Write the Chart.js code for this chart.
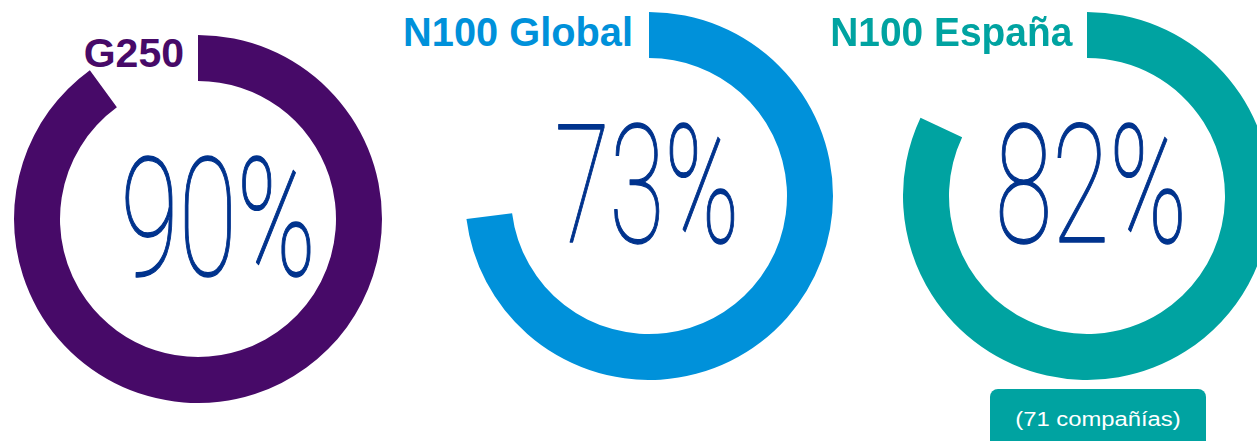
<!doctype html>
<html lang="es">
<head>
<meta charset="utf-8">
<title>G250 / N100 Global / N100 España</title>
<script src="https://cdn.jsdelivr.net/npm/chart.js"></script>
<style>
  html, body { margin: 0; padding: 0; background: #fff; }
  body { position: relative; width: 1257px; height: 441px; overflow: hidden; }
  .ring { position: absolute; width: 368px; height: 368px; }
  .title {
    position: absolute;
    font: bold 41px "Liberation Sans", Arial, sans-serif;
    line-height: 41px;
    white-space: nowrap;
    transform-origin: right top;
  }
  .note-box {
    position: absolute;
    left: 990px; top: 389px; width: 216px; height: 70px;
    background: #00a3a1;
    border-radius: 8px;
  }
  .note {
    position: absolute;
    left: 990px; width: 216px; top: 408.6px;
    text-align: center;
    color: #fff;
    font: 20px "Liberation Sans", Arial, sans-serif;
    line-height: 20px;
    white-space: nowrap;
    transform: scaleX(1.19);
  }
</style>
</head>
<body>
<script>
  // data
  const names = ['G250', 'N100 Global', 'N100 España']
  const percents = [90, 73, 82]
  const note = '(71 compañías)'

  // look
  const colors = ['#470a68', '#0091da', '#00a3a1']
  const numberColor = '#00338d'
  // ring centre, title right edge / baseline, number offset from centre
  const layout = [
    { cx: 197.5, cy: 218.5, titleRight: 184, titleBase: 68, titleScale: 1.0, dx: 20, dy: 55.5, w: 185, h: 120 },
    { cx: 649, cy: 196, titleRight: 632.5, titleBase: 46.7, titleScale: 0.97, dx: -2.8, dy: 46.3, w: 176, h: 120 },
    { cx: 1087, cy: 196, titleRight: 1072, titleBase: 46.7, titleScale: 0.948, dx: 3.8, dy: 46.3, w: 182, h: 120 }
  ]
  const R = 184

  const bigNumber = {
    id: 'bigNumber',
    afterDraw(chart, args, opts) {
      const ctx = chart.ctx
      const arc = chart.getDatasetMeta(0).data[0]
      ctx.save()
      ctx.font = '100 170px Roboto, "Roboto Thin", sans-serif'
      ctx.fillStyle = opts.color
      ctx.strokeStyle = opts.color
      ctx.lineWidth = 1.3
      ctx.lineJoin = 'round'
      ctx.textAlign = 'left'
      ctx.textBaseline = 'alphabetic'
      const m = ctx.measureText(opts.text)
      const ink = m.actualBoundingBoxLeft + m.actualBoundingBoxRight
      const sx = opts.w / ink
      const sy = opts.h / m.actualBoundingBoxAscent
      ctx.translate(arc.x + opts.dx, arc.y + opts.dy)
      ctx.scale(sx, sy)
      const x0 = -(m.actualBoundingBoxRight - m.actualBoundingBoxLeft) / 2
      ctx.fillText(opts.text, x0, 0)
      ctx.strokeText(opts.text, x0, 0)
      ctx.restore()
    }
  }

  function makeRing(i) {
    const L = layout[i]

    const title = document.createElement('div')
    title.className = 'title'
    title.textContent = names[i]
    title.style.color = colors[i]
    title.style.right = (1257 - L.titleRight) + 'px'
    title.style.top = (L.titleBase - 0.8465 * 41) + 'px'
    title.style.transform = 'scaleX(' + L.titleScale + ')'
    document.body.appendChild(title)

    const wrap = document.createElement('div')
    wrap.className = 'ring'
    wrap.style.left = (L.cx - R) + 'px'
    wrap.style.top = (L.cy - R) + 'px'
    const canvas = document.createElement('canvas')
    canvas.width = 2 * R
    canvas.height = 2 * R
    wrap.appendChild(canvas)
    document.body.appendChild(wrap)

    new Chart(canvas, {
      type: 'doughnut',
      data: {
        labels: [names[i], ''],
        datasets: [{
          data: [percents[i], 100 - percents[i]],
          backgroundColor: [colors[i], 'rgba(0,0,0,0)'],
          borderWidth: 0,
          hoverOffset: 0,
          spacing: 0
        }]
      },
      options: {
        responsive: false,
        animation: false,
        cutout: '75%',
        layout: { padding: 0 },
        events: [],
        plugins: {
          legend: { display: false },
          tooltip: { enabled: false },
          bigNumber: { text: percents[i] + '%', color: numberColor, dx: L.dx, dy: L.dy, w: L.w, h: L.h }
        }
      },
      plugins: [bigNumber]
    })
  }

  names.forEach((n, i) => makeRing(i))

  const box = document.createElement('div')
  box.className = 'note-box'
  document.body.appendChild(box)
  const noteEl = document.createElement('div')
  noteEl.className = 'note'
  noteEl.textContent = note
  document.body.appendChild(noteEl)
</script>
</body>
</html>
